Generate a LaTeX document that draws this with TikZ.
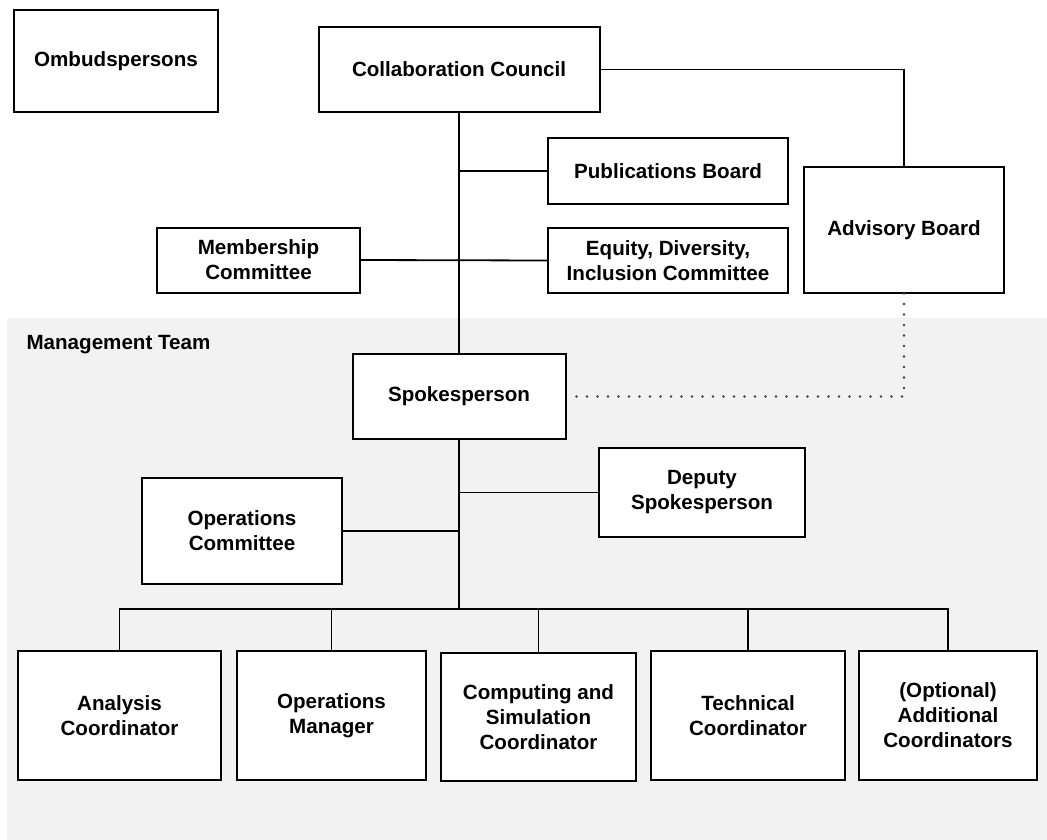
\documentclass[tikz,border=0pt]{standalone}
\usepackage{fontspec}
\setmainfont{Liberation Sans}
\definecolor{teamgray}{HTML}{F2F2F2}
\definecolor{dotgray}{HTML}{404040}
\tikzset{
	unit/.style={draw, line width=2pt, fill=white, align=center, inner sep=0pt,
		font=\bfseries\fontsize{20.6}{25}\selectfont},
	link/.style={line width=1.8pt},
	advice/.style={line width=2.8pt, dotgray, line cap=round, dash pattern=on 0pt off 10.5pt}
}

\begin{document}
\begin{tikzpicture}[x=1pt, y=-1pt]
	\useasboundingbox (0,0) rectangle (1047,840);
	\fill[teamgray](7,318) rectangle (1047,840);
	\node[anchor=west, font=\bfseries\fontsize{20.6}{25}\selectfont] (team) at (23,345) {Management Team};
	% upper part
	\node[unit, minimum width=204pt, minimum height=102pt] (omb) at (116,61) {Ombudspersons};
	\node[unit, minimum width=281pt, minimum height=85pt] (council) at (459,69.5) {Collaboration Council};
	\node[unit, minimum width=240pt, minimum height=66pt] (pub) at (668,171) {Publications Board};
	\node[unit, minimum width=240pt, minimum height=65pt] (edi) at (668,260.5) {Equity, Diversity,\\Inclusion Committee};
	\node[unit, minimum width=203pt, minimum height=65pt] (member) at (258.5,260) {Membership\\Committee};
	\node[unit, minimum width=200pt, minimum height=126pt] (advisory) at (904,230) {Advisory Board};
	% management team
	\node[unit, minimum width=213pt, minimum height=85pt] (spokes) at (459,396.5) {Spokesperson};
	\node[unit, minimum width=200pt, minimum height=106pt] (opcom) at (242,531) {Operations\\Committee};
	\node[unit, minimum width=206pt, minimum height=89pt] (deputy) at (702,492.5) {Deputy\\Spokesperson};
	\node[unit, minimum width=203pt, minimum height=129pt] (analysis) at (119.5,715.5) {Analysis\\Coordinator};
	\node[unit, minimum width=189pt, minimum height=129pt] (opman) at (331.5,715.5) {Operations\\Manager};
	\node[unit, minimum width=195pt, minimum height=128pt] (computing) at (538.5,717) {Computing and\\Simulation\\Coordinator};
	\node[unit, minimum width=194pt, minimum height=129pt] (technical) at (748,715.5) {Technical\\Coordinator};
	\node[unit, minimum width=178pt, minimum height=129pt] (optional) at (948,715.5) {(Optional)\\Additional\\Coordinators};
	\coordinate (bar) at (459,609);
	% connectors
	\draw[link](council.south)--(spokes.north);
	\draw[link](pub.west-|council.south)--(pub.west);
	\draw[link](member.east)--(edi.west);
	\draw[link](council.east)-|(advisory.north);
	\draw[advice](spokes.east)++(10pt,0)-|([yshift=5pt]advisory.south);
	\draw[link](spokes.south)--(bar);
	\draw[link](opcom.east)--(opcom.east-|bar);
	\draw[link](deputy.west)--(deputy.west-|bar);
	\draw[link, line cap=rect](analysis.north|-bar)--(optional.north|-bar);
	\foreach \n in {analysis, opman, computing, technical, optional}
		\draw[link](\n.north|-bar)--(\n.north);
\end{tikzpicture}
\end{document}
